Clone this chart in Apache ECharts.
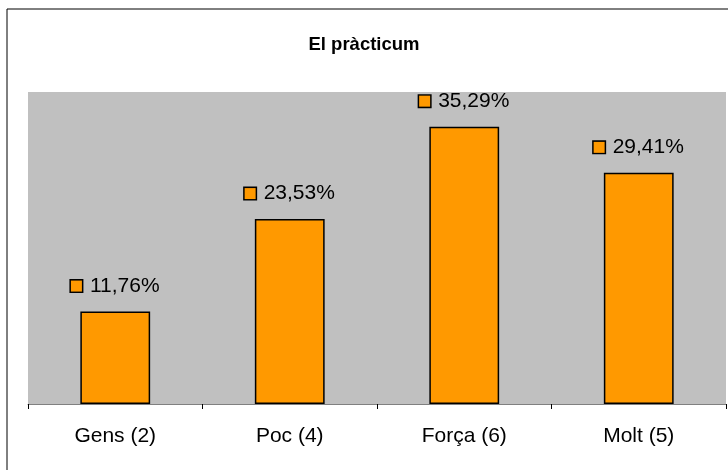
<!DOCTYPE html>
<html>
<head>
<meta charset="utf-8">
<script src="https://cdn.jsdelivr.net/npm/echarts@6/dist/echarts.min.js"></script>
<style>html,body{margin:0;padding:0;background:#fff}#c{width:728px;height:470px}</style>
</head>
<body>
<div id="c"></div>
<script>
var categories = ['Gens (2)', 'Poc (4)', 'Força (6)', 'Molt (5)'];
var values = [11.76, 23.53, 35.29, 29.41];
var titleText = 'El pràcticum';

var chart = echarts.init(document.getElementById('c'), null, {renderer: 'canvas'});
var font = '"Liberation Sans", Arial, sans-serif';
chart.setOption({
  animation: false,
  backgroundColor: '#ffffff',
  title: {
    text: titleText, left: 'center', top: 30,
    textStyle: {fontFamily: font, fontSize: 18.5, fontWeight: 'bold', color: '#000'}
  },
  graphic: [{
    type: 'rect', z: -1,
    shape: {x: 7, y: 9, width: 740, height: 480},
    style: {fill: 'none', stroke: '#000', lineWidth: 1}
  }],
  grid: {
    left: 28, right: 2, top: 92, bottom: 66,
    show: true, backgroundColor: '#c0c0c0', borderWidth: 0
  },
  xAxis: {
    type: 'category', data: categories,
    axisLine: {lineStyle: {color: '#808080', width: 1}},
    axisTick: {show: true, length: 5, lineStyle: {color: '#000'}},
    axisLabel: {fontFamily: font, fontSize: 21, color: '#000', margin: 22}
  },
  yAxis: {
    type: 'value', min: 0, max: 39.7,
    axisLine: {show: false}, axisTick: {show: false},
    axisLabel: {show: false}, splitLine: {show: false}
  },
  series: [{
    type: 'bar', data: values, barWidth: '40%',
    itemStyle: {color: '#ff9900', borderColor: '#000', borderWidth: 1.5},
    label: {
      show: true, position: 'top', distance: 15,
      formatter: function (p) { return '{sq|}{gap|}' + p.value.toFixed(2).replace('.', ',') + '%'; },
      fontFamily: font, fontSize: 21, color: '#000',
      rich: {
        sq: {width: 11, height: 11, backgroundColor: '#ff9900', borderColor: '#000', borderWidth: 1.5},
        gap: {width: 8}
      }
    }
  }]
});
</script>
</body>
</html>
